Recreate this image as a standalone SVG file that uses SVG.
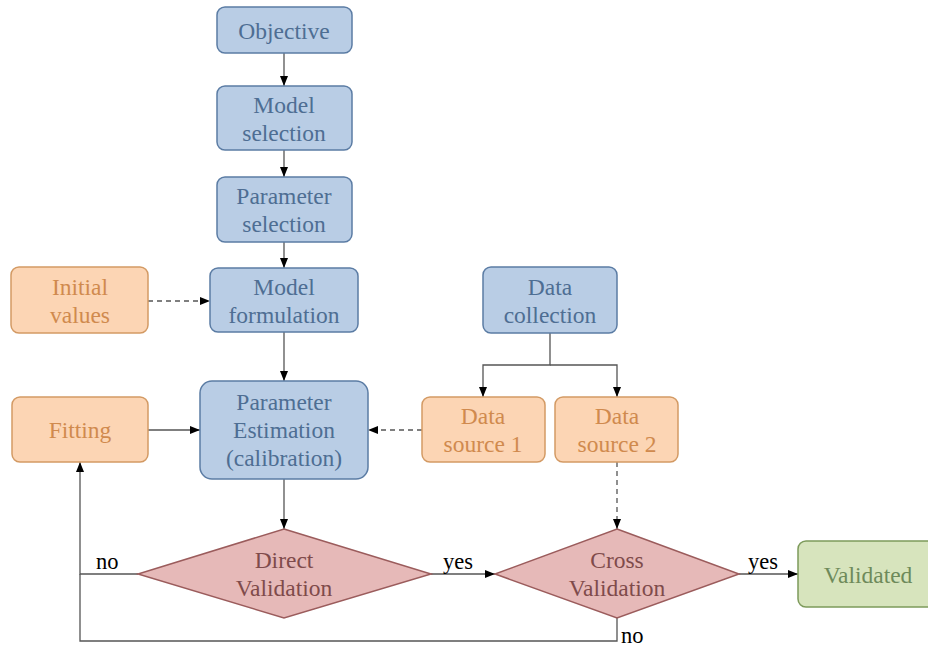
<svg xmlns="http://www.w3.org/2000/svg" width="928" height="648" viewBox="0 0 928 648">
<style>
text{font-family:"Liberation Serif","Times New Roman",Tinos,"Noto Serif","DejaVu Serif",FreeSerif,Times,serif;font-size:23.5px;text-anchor:middle}
.b rect{fill:#b9cde5;stroke:#5b7ca4;stroke-width:1.5}
.b text{fill:#4e6e93}
.o rect{fill:#fcd5b4;stroke:#d39a64;stroke-width:1.5}
.o text{fill:#d08a4e}
.r polygon{fill:#e6b9b8;stroke:#9b5c5c;stroke-width:1.5}
.r text{fill:#7f4b4b}
.g rect{fill:#d7e4bd;stroke:#7d9a5b;stroke-width:1.5}
.g text{fill:#6e8a5a}
.c path{fill:none;stroke:#555;stroke-width:1.3}
.c .d{stroke-dasharray:5 4}
.lbl{fill:#000;font-size:22.5px;text-anchor:start}
</style>
<defs>
<marker id="a" viewBox="0 0 10 10" refX="10" refY="5" markerWidth="10" markerHeight="10" markerUnits="userSpaceOnUse" orient="auto">
<path d="M0,1 L10,5 L0,9 Z" fill="#000"/>
</marker>
</defs>
<g class="c">
<path d="M284,53 V86" marker-end="url(#a)"/>
<path d="M284,150 V177" marker-end="url(#a)"/>
<path d="M284,242 V268" marker-end="url(#a)"/>
<path class="d" d="M148,301 H210" marker-end="url(#a)"/>
<path d="M284,332 V381" marker-end="url(#a)"/>
<path d="M148,430 H200" marker-end="url(#a)"/>
<path class="d" d="M422,430 H368" marker-end="url(#a)"/>
<path d="M550,333 V365 H483 V397" marker-end="url(#a)"/>
<path d="M550,365 H617 V397" marker-end="url(#a)"/>
<path class="d" d="M617,462 V529" marker-end="url(#a)"/>
<path d="M284,479 V529" marker-end="url(#a)"/>
<path d="M431,574 H495" marker-end="url(#a)"/>
<path d="M739,574 H798" marker-end="url(#a)"/>
<path d="M138,574 H80 V462" marker-end="url(#a)"/>
<path d="M617,618 V641 H80 V574"/>
</g>
<g id="objective" class="b"><rect x="217" y="7" width="135" height="46" rx="8"/><text x="284" y="39">Objective</text></g>
<g id="model-selection" class="b"><rect x="217" y="86" width="135" height="64" rx="8"/><text x="284" y="113">Model</text><text x="284" y="141">selection</text></g>
<g id="parameter-selection" class="b"><rect x="217" y="177" width="135" height="65" rx="8"/><text x="284" y="204">Parameter</text><text x="284" y="232">selection</text></g>
<g id="model-formulation" class="b"><rect x="210" y="268" width="148" height="64" rx="8"/><text x="284" y="295">Model</text><text x="284" y="323">formulation</text></g>
<g id="initial-values" class="o"><rect x="11" y="267" width="137" height="66" rx="8"/><text x="80" y="295">Initial</text><text x="80" y="323">values</text></g>
<g id="parameter-estimation" class="b"><rect x="200" y="381" width="168" height="98" rx="12"/><text x="284" y="410">Parameter</text><text x="284" y="438">Estimation</text><text x="284" y="466">(calibration)</text></g>
<g id="fitting" class="o"><rect x="12" y="397" width="136" height="65" rx="8"/><text x="80" y="438">Fitting</text></g>
<g id="data-collection" class="b"><rect x="483" y="267" width="134" height="66" rx="8"/><text x="550" y="295">Data</text><text x="550" y="323">collection</text></g>
<g id="data-source-1" class="o"><rect x="422" y="397" width="123" height="65" rx="8"/><text x="483" y="424">Data</text><text x="483" y="452">source 1</text></g>
<g id="data-source-2" class="o"><rect x="555" y="397" width="123" height="65" rx="8"/><text x="617" y="424">Data</text><text x="617" y="452">source 2</text></g>
<g id="direct-validation" class="r"><polygon points="284,529 431,574 284,618 138,574"/><text x="284" y="568">Direct</text><text x="284" y="596">Validation</text></g>
<g id="cross-validation" class="r"><polygon points="617,529 739,574 617,618 495,574"/><text x="617" y="568">Cross</text><text x="617" y="596">Validation</text></g>
<g id="validated" class="g"><rect x="798" y="541" width="142" height="66" rx="8"/><text x="868" y="583">Validated</text></g>
<g id="labels">
<text class="lbl" x="96" y="569">no</text>
<text class="lbl" x="443" y="569">yes</text>
<text class="lbl" x="748" y="569">yes</text>
<text class="lbl" x="621" y="643">no</text>
</g>
</svg>
